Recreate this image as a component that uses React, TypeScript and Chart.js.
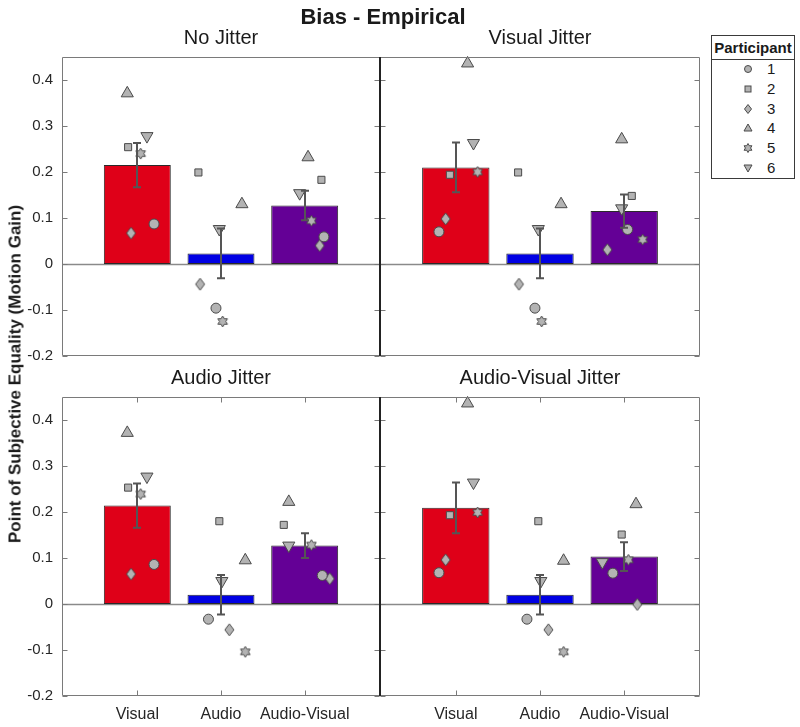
import { useEffect, useRef } from 'react';
import { Chart, registerables } from 'chart.js';

Chart.register(...registerables);

const FONT = "'Liberation Sans', Arial, Helvetica, sans-serif";

// Conditions on the x axis and their positions on the linear scale
const conditions = ['Visual', 'Audio', 'Audio-Visual'];
const conditionPositions = [0, 1, 2];
const barColors = ['#df0018', '#0000e4', '#640096'];

const yTicks = [-0.2, -0.1, 0, 0.1, 0.2, 0.3, 0.4];
const yTickLabels = ['-0.2', '-0.1', '0', '0.1', '0.2', '0.3', '0.4'];

const participants = ['1', '2', '3', '4', '5', '6'];
const panelTitles = ['No Jitter', 'Visual Jitter', 'Audio Jitter', 'Audio-Visual Jitter'];

// Group means and standard errors (Visual, Audio, Audio-Visual)
const meanNoJitter = [0.215, 0.023, 0.127];
const semNoJitter = [0.048, 0.054, 0.032];
const meanVisualJitter = [0.21, 0.023, 0.115];
const semVisualJitter = [0.054, 0.054, 0.036];
const meanAudioJitter = [0.214, 0.02, 0.127];
const semAudioJitter = [0.048, 0.043, 0.027];
const meanAVJitter = [0.209, 0.02, 0.103];
const semAVJitter = [0.055, 0.043, 0.031];

// Per-participant PSE — rows: participants 1–6, columns: Visual, Audio, Audio-Visual
const pseNoJitter = [
  [0.087, -0.096, 0.059],
  [0.254, 0.199, 0.183],
  [0.067, -0.044, 0.04],
  [0.371, 0.13, 0.232],
  [0.24, -0.125, 0.094],
  [0.278, 0.076, 0.154],
];
const pseVisualJitter = [
  [0.07, -0.096, 0.075],
  [0.194, 0.199, 0.148],
  [0.098, -0.044, 0.031],
  [0.436, 0.13, 0.271],
  [0.2, -0.125, 0.053],
  [0.263, 0.076, 0.121],
];
const pseAudioJitter = [
  [0.086, -0.033, 0.062],
  [0.253, 0.18, 0.172],
  [0.065, -0.056, 0.055],
  [0.372, 0.095, 0.222],
  [0.239, -0.104, 0.128],
  [0.277, 0.05, 0.127],
];
const pseAVJitter = [
  [0.068, -0.033, 0.067],
  [0.193, 0.18, 0.151],
  [0.096, -0.056, -0.001],
  [0.436, 0.094, 0.217],
  [0.199, -0.104, 0.096],
  [0.264, 0.05, 0.091],
];

// Horizontal scatter of each participant marker around its condition (category units)
const spreadNoJitter = [
  [0.2, -0.06, 0.23],
  [-0.11, -0.27, 0.2],
  [-0.075, -0.25, 0.18],
  [-0.12, 0.25, 0.04],
  [0.04, 0.02, 0.08],
  [0.115, -0.02, -0.06],
];
const spreadVisualJitter = [
  [-0.2, -0.06, 0.04],
  [-0.07, -0.26, 0.09],
  [-0.12, -0.25, -0.2],
  [0.14, 0.25, -0.03],
  [0.26, 0.02, 0.22],
  [0.21, -0.02, -0.03],
];
const spreadAudioJitter = [
  [0.2, -0.15, 0.21],
  [-0.11, -0.02, -0.25],
  [-0.075, 0.1, 0.3],
  [-0.12, 0.29, -0.19],
  [0.04, 0.29, 0.08],
  [0.115, 0.01, -0.19],
];
const spreadAVJitter = [
  [-0.2, -0.155, -0.135],
  [-0.07, -0.02, -0.03],
  [-0.12, 0.1, 0.155],
  [0.14, 0.28, 0.14],
  [0.26, 0.28, 0.05],
  [0.21, 0.01, -0.26],
];

const MARKER_FILL = '#b3b3b3';
const MARKER_EDGE = '#4a4a4a';
const FRAME = '#7a7a7a';

function makeHexagram(r: number) {
  const size = Math.ceil(r * 2 + 4);
  const c = document.createElement('canvas');
  c.width = size;
  c.height = size;
  const g = c.getContext('2d')!;
  const cx = size / 2;
  g.beginPath();
  for (let i = 0; i < 12; i++) {
    const ang = -Math.PI / 2 + (i * Math.PI) / 6;
    const rr = i % 2 === 0 ? r : r / Math.sqrt(3);
    g.lineTo(cx + rr * Math.cos(ang), cx + rr * Math.sin(ang));
  }
  g.closePath();
  g.fillStyle = MARKER_FILL;
  g.fill();
  g.strokeStyle = MARKER_EDGE;
  g.lineWidth = 1;
  g.stroke();
  return c;
}

function makeDiamond(hw: number, hh: number) {
  const w = Math.ceil(hw * 2 + 4);
  const h = Math.ceil(hh * 2 + 4);
  const c = document.createElement('canvas');
  c.width = w;
  c.height = h;
  const g = c.getContext('2d')!;
  const cx = w / 2;
  const cy = h / 2;
  g.beginPath();
  g.moveTo(cx, cy - hh);
  g.lineTo(cx + hw, cy);
  g.lineTo(cx, cy + hh);
  g.lineTo(cx - hw, cy);
  g.closePath();
  g.fillStyle = MARKER_FILL;
  g.fill();
  g.strokeStyle = MARKER_EDGE;
  g.lineWidth = 1;
  g.stroke();
  return c;
}

// Box, inward ticks, zero line and error bars in the style of the figure
const matlabAxes = {
  id: 'matlabAxes',
  beforeDatasetsDraw(chart: any) {
    const { ctx, chartArea: a, scales } = chart;
    const y0 = Math.round(scales.y.getPixelForValue(0)) + 0.5;
    ctx.save();
    ctx.strokeStyle = '#8a8a8a';
    ctx.lineWidth = 1.5;
    ctx.beginPath();
    ctx.moveTo(a.left, y0);
    ctx.lineTo(a.right, y0);
    ctx.stroke();
    ctx.restore();
  },
  afterDatasetsDraw(chart: any) {
    const { ctx, scales } = chart;
    const ds = chart.data.datasets[0];
    const meta = chart.getDatasetMeta(0);
    ctx.save();
    ctx.strokeStyle = '#555555';
    ctx.lineWidth = 2;
    meta.data.forEach((el: any, i: number) => {
      const m = ds.data[i].y;
      const e = ds.errors[i];
      const x = Math.round(el.x);
      const yt = scales.y.getPixelForValue(m + e);
      const yb = scales.y.getPixelForValue(m - e);
      ctx.beginPath();
      ctx.moveTo(x, yt);
      ctx.lineTo(x, yb);
      ctx.moveTo(x - 4, yt);
      ctx.lineTo(x + 4, yt);
      ctx.moveTo(x - 4, yb);
      ctx.lineTo(x + 4, yb);
      ctx.stroke();
    });
    ctx.restore();
  },
  afterDraw(chart: any, _args: any, opts: any) {
    const { ctx, chartArea: a, scales } = chart;
    const l = Math.round(a.left) + 0.5;
    const r = Math.round(a.right) - 0.5;
    const t = Math.round(a.top) + 0.5;
    const b = Math.round(a.bottom) - 0.5;
    ctx.save();
    ctx.strokeStyle = FRAME;
    ctx.lineWidth = 1;
    ctx.beginPath();
    ctx.moveTo(l, t);
    ctx.lineTo(r, t);
    ctx.lineTo(r, b);
    ctx.lineTo(l, b);
    if (!opts.darkLeft) ctx.lineTo(l, t);
    // inward ticks on the y axis (both sides)
    scales.y.ticks.forEach((tk: any) => {
      const py = Math.round(scales.y.getPixelForValue(tk.value)) + 0.5;
      ctx.moveTo(l, py);
      ctx.lineTo(l + 5, py);
      ctx.moveTo(r, py);
      ctx.lineTo(r - 5, py);
    });
    if (opts.xTicks) {
      scales.x.ticks.forEach((tk: any) => {
        const px = Math.round(scales.x.getPixelForValue(tk.value)) + 0.5;
        ctx.moveTo(px, b);
        ctx.lineTo(px, b - 5);
        ctx.moveTo(px, t);
        ctx.lineTo(px, t + 5);
      });
    }
    ctx.stroke();
    if (opts.darkLeft) {
      ctx.strokeStyle = '#222222';
      ctx.lineWidth = 2;
      ctx.beginPath();
      ctx.moveTo(Math.round(a.left), a.top);
      ctx.lineTo(Math.round(a.left), a.bottom);
      ctx.stroke();
    }
    ctx.restore();
  },
};

type Panel = {
  title: string;
  mean: number[];
  sem: number[];
  pse: number[][];
  spread: number[][];
  row: number;
  col: number;
};

const panels: Panel[] = [
  { title: panelTitles[0], mean: meanNoJitter, sem: semNoJitter, pse: pseNoJitter, spread: spreadNoJitter, row: 0, col: 0 },
  { title: panelTitles[1], mean: meanVisualJitter, sem: semVisualJitter, pse: pseVisualJitter, spread: spreadVisualJitter, row: 0, col: 1 },
  { title: panelTitles[2], mean: meanAudioJitter, sem: semAudioJitter, pse: pseAudioJitter, spread: spreadAudioJitter, row: 1, col: 0 },
  { title: panelTitles[3], mean: meanAVJitter, sem: semAVJitter, pse: pseAVJitter, spread: spreadAVJitter, row: 1, col: 1 },
];

const W = 800;
const H = 727;
const COL_EDGES = [
  [62, 380],
  [380, 700],
];
const ROW_EDGES = [
  [57, 356],
  [397, 696],
];
const TITLE_H = 31;
const XAXIS_H = 31;

function buildConfig(p: Panel) {
  const [left, right] = COL_EDGES[p.col];
  const [top, bottom] = ROW_EDGES[p.row];
  const showY = p.col === 0;
  const showX = p.row === 1;
  const hexagram = makeHexagram(5.5);
  const diamond = makeDiamond(4.5, 6);
  const styles: any[] = ['circle', 'rect', diamond, 'triangle', hexagram, 'triangle'];
  const radii = [5, 5, 6, 7, 5, 7];
  const rotations = [0, 0, 0, 0, 0, 180];

  const barData = conditionPositions.map((x, i) => ({ x, y: p.mean[i] }));
  const datasets: any[] = [
    {
      type: 'bar',
      data: barData,
      errors: p.sem,
      backgroundColor: barColors,
      borderColor: '#2a2a2a',
      borderWidth: 1,
      borderSkipped: false,
      categoryPercentage: 1,
      barPercentage: 0.8,
      order: 10,
    },
    ...participants.map((name, k) => ({
      type: 'scatter',
      label: name,
      data: conditionPositions.map((x, i) => ({ x: x + p.spread[k][i], y: p.pse[k][i] })),
      pointStyle: styles[k],
      pointRadius: radii[k],
      pointRotation: rotations[k],
      backgroundColor: MARKER_FILL,
      borderColor: MARKER_EDGE,
      borderWidth: 1,
      clip: false,
      order: k,
    })),
  ];

  return {
    type: 'bar',
    data: { datasets },
    plugins: [matlabAxes],
    options: {
      responsive: false,
      animation: false,
      events: [],
      layout: {
        padding: {
          left: showY ? 0 : left,
          right: W - right,
          top: top - TITLE_H,
          bottom: H - bottom - XAXIS_H,
        },
      },
      plugins: {
        legend: { display: false },
        tooltip: { enabled: false },
        title: {
          display: true,
          text: p.title,
          fullSize: false,
          color: '#1a1a1a',
          font: { family: FONT, size: 20, weight: 'normal', lineHeight: 1.2 },
          padding: { top: 0, bottom: TITLE_H - 24 },
        },
        matlabAxes: { darkLeft: p.col === 1, xTicks: showX },
      },
      scales: {
        x: {
          type: 'linear',
          position: 'bottom',
          min: -0.9,
          max: 2.9,
          offset: false,
          grid: { display: false, drawTicks: false },
          border: { display: false },
          afterBuildTicks: (s: any) => {
            s.ticks = conditionPositions.map((v) => ({ value: v }));
          },
          afterFit: (s: any) => {
            s.height = XAXIS_H;
          },
          ticks: {
            display: showX,
            autoSkip: false,
            maxRotation: 0,
            padding: 9,
            color: '#262626',
            font: { family: FONT, size: 16 },
            callback: (v: number) => conditions[conditionPositions.indexOf(Math.round(v))],
          },
        },
        y: {
          type: 'linear',
          position: 'left',
          min: -0.2,
          max: 0.45,
          grid: { display: false, drawTicks: false },
          border: { display: false },
          afterBuildTicks: (s: any) => {
            s.ticks = yTicks.map((v) => ({ value: v }));
          },
          afterFit: (s: any) => {
            s.width = showY ? left : 0;
          },
          ticks: {
            display: showY,
            padding: 9,
            color: '#262626',
            font: { family: FONT, size: 15 },
            callback: (v: number) => {
              const i = yTicks.findIndex((t) => Math.abs(t - v) < 1e-9);
              return i >= 0 ? yTickLabels[i] : '';
            },
          },
        },
      },
    },
  };
}

function PanelChart({ panel }: { panel: Panel }) {
  const ref = useRef<HTMLCanvasElement | null>(null);
  useEffect(() => {
    if (!ref.current) return;
    const chart = new Chart(ref.current, buildConfig(panel) as any);
    return () => chart.destroy();
  }, [panel]);
  return (
    <canvas
      ref={ref}
      width={W}
      height={H}
      style={{ position: 'absolute', left: 0, top: 0, width: W, height: H }}
    />
  );
}

function LegendMarker({ index }: { index: number }) {
  const common = { fill: MARKER_FILL, stroke: MARKER_EDGE, strokeWidth: 1 };
  let shape: any = null;
  if (index === 0) shape = <circle cx={6} cy={6} r={3.5} {...common} />;
  if (index === 1) shape = <rect x={3} y={3} width={6} height={6} {...common} />;
  if (index === 2) shape = <polygon points="6,1.5 9.5,6 6,10.5 2.5,6" {...common} />;
  if (index === 3) shape = <polygon points="6,2 10,9 2,9" {...common} />;
  if (index === 4) {
    const pts: string[] = [];
    for (let i = 0; i < 12; i++) {
      const ang = -Math.PI / 2 + (i * Math.PI) / 6;
      const rr = i % 2 === 0 ? 4.5 : 4.5 / Math.sqrt(3);
      pts.push(`${(6 + rr * Math.cos(ang)).toFixed(2)},${(6 + rr * Math.sin(ang)).toFixed(2)}`);
    }
    shape = <polygon points={pts.join(' ')} {...common} />;
  }
  if (index === 5) shape = <polygon points="2,3 10,3 6,10" {...common} />;
  return (
    <svg width={12} height={12} style={{ position: 'absolute', left: 30, top: -6 }}>
      {shape}
    </svg>
  );
}

function ParticipantLegend() {
  return (
    <div
      style={{
        position: 'absolute',
        left: 711,
        top: 35,
        width: 84,
        height: 144,
        boxSizing: 'border-box',
        border: '1px solid #3a3a3a',
        background: '#fff',
        fontFamily: FONT,
        color: '#1a1a1a',
      }}
    >
      <div
        style={{
          height: 23,
          borderBottom: '1px solid #3a3a3a',
          fontWeight: 'bold',
          fontSize: 15,
          lineHeight: '24px',
          textAlign: 'center',
        }}
      >
        Participant
      </div>
      {participants.map((name, i) => (
        <div key={name} style={{ position: 'absolute', left: 0, top: 33 + i * 19.8, width: '100%' }}>
          <LegendMarker index={i} />
          <span
            style={{
              position: 'absolute',
              left: 55,
              top: -9,
              fontSize: 15,
              lineHeight: '18px',
            }}
          >
            {name}
          </span>
        </div>
      ))}
    </div>
  );
}

export default function App() {
  return (
    <div
      style={{
        position: 'absolute',
        left: 0,
        top: 0,
        width: W,
        height: H,
        background: '#fff',
        overflow: 'hidden',
        fontFamily: FONT,
      }}
    >
      {panels.map((p) => (
        <PanelChart key={p.title} panel={p} />
      ))}
      <div
        style={{
          position: 'absolute',
          left: 283,
          width: 200,
          top: 6,
          textAlign: 'center',
          fontWeight: 'bold',
          fontSize: 22,
          lineHeight: '22px',
          color: '#1a1a1a',
        }}
      >
        Bias - Empirical
      </div>
      <div
        style={{
          position: 'absolute',
          left: 15,
          top: 374,
          transform: 'translate(-50%, -50%) rotate(-90deg)',
          whiteSpace: 'nowrap',
          fontWeight: 'bold',
          fontSize: 17,
          lineHeight: '17px',
          color: '#1a1a1a',
        }}
      >
        Point of Subjective Equality (Motion Gain)
      </div>
      <ParticipantLegend />
    </div>
  );
}
